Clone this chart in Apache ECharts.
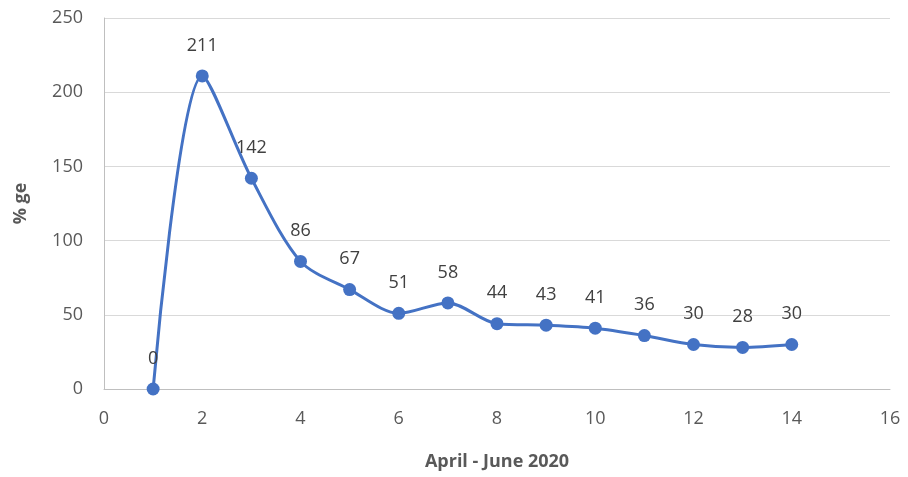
<!DOCTYPE html>
<html><head><meta charset="utf-8">
<script src="https://cdn.jsdelivr.net/npm/echarts@6/dist/echarts.min.js"></script>
<style>html,body{margin:0;padding:0;background:#fff}#c{width:908px;height:477px}</style>
</head><body><div id="c"></div>
<script>
const xValues = [1,2,3,4,5,6,7,8,9,10,11,12,13,14];
const yValues = [0,211,142,86,67,51,58,44,43,41,36,30,28,30];
const xAxisName = 'April - June 2020';
const yAxisName = '% ge';
const font = "'Open Sans', 'Liberation Sans', sans-serif";
const chart = echarts.init(document.getElementById('c'));
chart.setOption({
  animation: false,
  grid: {left: 104, right: 18, top: 18, bottom: 88, containLabel: false, outerBoundsMode: 'none'},
  xAxis: {
    type: 'value', min: 0, max: 16, interval: 2,
    name: xAxisName, nameLocation: 'middle', nameGap: 64,
    nameTextStyle: {fontFamily: font, fontSize: 18, fontWeight: 'bold', color: '#595959'},
    axisLine: {show: true, lineStyle: {color: '#bfbfbf', width: 1}},
    axisTick: {show: false},
    splitLine: {show: false},
    axisLabel: {fontFamily: font, fontSize: 18, color: '#595959', margin: 21}
  },
  yAxis: {
    type: 'value', min: 0, max: 250, interval: 50,
    name: yAxisName, nameLocation: 'middle', nameGap: 74,
    nameTextStyle: {fontFamily: font, fontSize: 18, fontWeight: 'bold', color: '#595959'},
    axisLine: {show: true, lineStyle: {color: '#bfbfbf', width: 1}},
    axisTick: {show: false},
    splitLine: {show: true, lineStyle: {color: '#d9d9d9', width: 1}},
    axisLabel: {fontFamily: font, fontSize: 18, color: '#595959', margin: 21}
  },
  series: [{
    type: 'line',
    data: xValues.map((x, i) => [x, yValues[i]]),
    smooth: 0.3,
    symbol: 'circle', symbolSize: 13,
    lineStyle: {color: '#4472c4', width: 3},
    itemStyle: {color: '#4472c4'},
    label: {show: true, position: 'top', distance: 15, fontFamily: font, fontSize: 18, color: '#404040',
      formatter: p => p.value[1]}
  }]
});
</script></body></html>
